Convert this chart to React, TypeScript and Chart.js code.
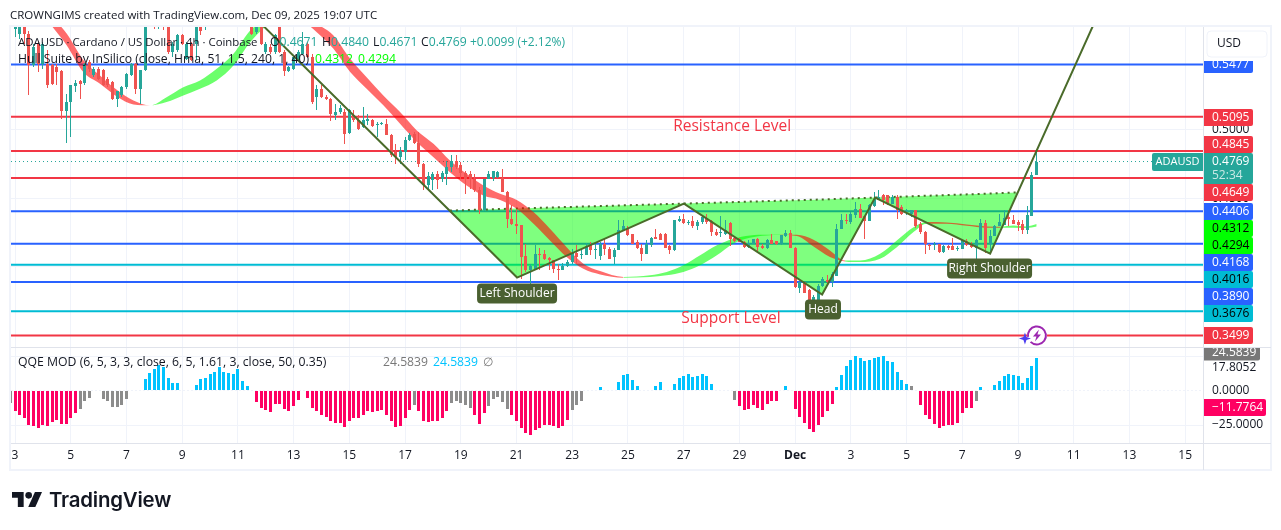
import { useEffect, useRef } from "react";
import { Chart, registerables } from "chart.js";

Chart.register(...registerables);

const FONT = '"Open Sans", sans-serif';
const INK = "#131722";
const UP = "#26a69a";
const DOWN = "#ef5350";
const RED = "#f23645";
const BLUE = "#2962ff";
const CYAN = "#00bcd4";
const OLIVE = "#4a6b2a";
const BADGE = "#4a6030";
const LIME = "#00ff00";
const QQE_BLUE = "#00c3ff";
const QQE_PINK = "#ff0062";
const QQE_GRAY = "#8c8c8c";

// x is days since Nov 3, one candle every 4h
const X_MIN = -0.144;
const X_MAX = 42.64;

const tickLabels = ["3", "5", "7", "9", "11", "13", "15", "17", "19", "21", "23", "25", "27", "29", "Dec", "3", "5", "7", "9", "11", "13", "15"];
const tickDays = [0, 2, 4, 6, 8, 10, 12, 14, 16, 18, 20, 22, 24, 26, 28, 30, 32, 34, 36, 38, 40, 42];

const opens = [
  .5737, .5701, .5780, .5701, .5470, .5628, .5482, .5482, .5470, .5458,
  .5429, .5137, .5203, .5317, .5354, .5344, .5494, .5397, .5446, .5434,
  .5373, .5349, .5227, .5251, .5312, .5397, .5482, .5300, .5439, .5798,
  .5822, .5774, .5798, .5774, .5567, .5580, .5689, .5519, .5628, .5628,
  .5774, .5762, .5798, .5840, .5820, .5860, .5830, .5850, .5820, .5850,
  .5810, .5790, .5713, .5774, .5567, .5604, .5567, .5798, .5567, .5429,
  .5446, .5507, .5555, .5628, .5531, .5239, .5300, .5239, .5227, .5106,
  .5130, .5130, .4977, .5106, .5069, .5020, .5064, .5074, .5038, .5040,
  .5045, .4965, .4838, .4802, .4838, .4928, .4972, .4904, .4752, .4594,
  .4635, .4679, .4642, .4679, .4728, .4776, .4747, .4684, .4679, .4643,
  .4558, .4412, .4643, .4650, .4655, .4647, .4550, .4351, .4315, .4302,
  .4076, .3974, .3986, .4096, .4091, .4067, .4047, .3986, .3974, .4003,
  .4035, .4103, .4084, .4084, .4161, .4127, .4079, .4164, .4132, .4072,
  .4120, .4266, .4278, .4237, .4181, .4140, .4096, .4157, .4217, .4242,
  .4242, .4149, .4120, .4332, .4351, .4319, .4332, .4295, .4327, .4358,
  .4332, .4254, .4246, .4242, .4319, .4210, .4203, .4181, .4144, .4169,
  .4200, .4149, .4140, .4198, .4186, .4164, .4225, .4246, .4140, .3848,
  .3889, .3829, .3731, .3760, .3858, .3906, .3889, .3930, .4278, .4344,
  .4327, .4375, .4424, .4368, .4334, .4441, .4490, .4521, .4521, .4460,
  .4509, .4436, .4400, .4383, .4412, .4310, .4254, .4161, .4156, .4164,
  .4106, .4149, .4149, .4132, .4130, .4188, .4169, .4140, .4193, .4319,
  .4164, .4222, .4295, .4302, .4363, .4344, .4327, .4315, .4266, .4368,
  .4671,
];
const highs = [
  .5810, .5810, .5810, .5720, .5628, .5640, .5640, .5580, .5480, .5482,
  .5440, .5264, .5324, .5366, .5366, .5490, .5511, .5460, .5460, .5446,
  .5385, .5360, .5283, .5320, .5412, .5490, .5490, .5439, .5810, .5860,
  .5860, .5830, .5830, .5800, .5640, .5700, .5700, .5640, .5640, .5822,
  .5800, .5822, .5860, .5900, .5890, .5900, .5870, .5890, .5870, .5880,
  .5850, .5820, .5770, .5790, .5640, .5628, .5700, .5810, .5580, .5465,
  .5540, .5580, .5713, .5640, .5555, .5324, .5324, .5256, .5235, .5191,
  .5179, .5154, .5150, .5142, .5106, .5166, .5118, .5080, .5057, .5060,
  .5081, .4970, .4899, .4875, .4948, .4975, .4984, .4984, .4760, .4691,
  .4691, .4703, .4703, .4776, .4813, .4813, .4764, .4703, .4698, .4679,
  .4582, .4640, .4698, .4703, .4700, .4715, .4555, .4448, .4412, .4305,
  .4169, .4023, .4157, .4140, .4120, .4072, .4052, .4023, .4028, .4047,
  .4132, .4157, .4132, .4173, .4181, .4181, .4181, .4205, .4144, .4140,
  .4339, .4344, .4295, .4242, .4193, .4164, .4198, .4217, .4278, .4247,
  .4244, .4157, .4339, .4368, .4387, .4339, .4368, .4339, .4375, .4387,
  .4339, .4278, .4368, .4339, .4327, .4217, .4210, .4188, .4193, .4205,
  .4212, .4164, .4200, .4242, .4190, .4235, .4271, .4266, .4144, .3892,
  .3892, .3835, .3792, .3877, .3926, .3938, .3962, .4314, .4383, .4387,
  .4400, .4472, .4460, .4368, .4460, .4545, .4558, .4533, .4526, .4521,
  .4521, .4448, .4424, .4417, .4417, .4327, .4261, .4169, .4181, .4169,
  .4157, .4161, .4212, .4149, .4198, .4205, .4181, .4203, .4351, .4339,
  .4266, .4302, .4383, .4412, .4412, .4375, .4344, .4339, .4441, .4696,
  .4840,
];
const lows = [
  .5677, .5665, .5628, .5251, .5458, .5422, .5446, .5307, .5324, .5324,
  .5081, .4904, .4948, .5276, .5227, .5330, .5422, .5385, .5365, .5317,
  .5312, .5220, .5166, .5240, .5300, .5390, .5264, .5191, .5430, .5790,
  .5737, .5737, .5730, .5555, .5531, .5570, .5620, .5510, .5500, .5507,
  .5689, .5730, .5770, .5800, .5790, .5810, .5800, .5810, .5790, .5800,
  .5780, .5690, .5700, .5620, .5555, .5555, .5555, .5560, .5390, .5420,
  .5435, .5500, .5545, .5525, .5191, .5142, .5230, .5215, .5064, .5074,
  .5118, .4899, .4970, .5057, .4996, .5015, .5033, .5020, .4948, .5035,
  .4960, .4802, .4753, .4753, .4778, .4920, .4895, .4729, .4558, .4558,
  .4562, .4570, .4618, .4594, .4691, .4715, .4643, .4533, .4570, .4550,
  .4383, .4405, .4640, .4630, .4650, .4545, .4283, .4302, .4242, .3914,
  .3962, .3870, .3986, .3979, .4047, .3974, .3957, .3901, .3974, .3998,
  .4023, .4018, .4059, .4084, .4084, .4059, .4047, .4084, .4055, .4023,
  .4120, .4266, .4222, .4164, .4132, .4040, .4096, .4144, .4200, .4195,
  .4140, .4096, .4118, .4327, .4315, .4305, .4285, .4266, .4315, .4315,
  .4222, .4222, .4217, .4229, .4152, .4181, .4178, .4140, .4140, .4164,
  .4115, .4132, .4132, .4164, .4160, .4160, .4220, .4137, .3848, .3809,
  .3811, .3719, .3719, .3743, .3855, .3860, .3853, .3930, .4275, .4315,
  .4315, .4358, .4358, .4200, .4334, .4436, .4490, .4455, .4448, .4460,
  .4346, .4375, .4375, .4363, .4285, .4242, .4091, .4125, .4125, .4103,
  .4101, .4120, .4120, .4115, .4130, .4154, .4140, .4059, .4193, .4101,
  .4115, .4222, .4295, .4302, .4295, .4310, .4261, .4237, .4242, .4368,
  .4671,
];
const closes = [
  .5798, .5798, .5701, .5470, .5604, .5482, .5628, .5324, .5337, .5422,
  .5137, .5203, .5324, .5344, .5337, .5482, .5446, .5446, .5373, .5324,
  .5324, .5227, .5283, .5312, .5405, .5482, .5300, .5439, .5798, .5847,
  .5774, .5810, .5750, .5567, .5628, .5689, .5628, .5628, .5507, .5798,
  .5725, .5798, .5840, .5820, .5860, .5830, .5850, .5820, .5850, .5810,
  .5790, .5701, .5760, .5628, .5628, .5567, .5689, .5567, .5429, .5458,
  .5531, .5567, .5628, .5531, .5203, .5300, .5239, .5227, .5118, .5130,
  .5161, .4972, .5142, .5069, .5008, .5069, .5076, .5025, .5045, .5052,
  .4965, .4814, .4802, .4846, .4928, .4960, .4904, .4753, .4594, .4660,
  .4679, .4635, .4684, .4732, .4776, .4728, .4684, .4643, .4643, .4558,
  .4412, .4638, .4679, .4698, .4691, .4545, .4351, .4315, .4295, .4072,
  .3974, .4003, .4091, .4084, .4059, .4047, .3986, .3974, .4003, .4035,
  .4101, .4072, .4096, .4149, .4125, .4132, .4169, .4132, .4059, .4120,
  .4266, .4295, .4229, .4169, .4140, .4096, .4164, .4212, .4203, .4198,
  .4140, .4125, .4339, .4351, .4319, .4327, .4295, .4327, .4363, .4327,
  .4254, .4229, .4254, .4266, .4205, .4188, .4181, .4144, .4173, .4200,
  .4144, .4137, .4198, .4169, .4164, .4229, .4246, .4140, .3853, .3889,
  .3811, .3731, .3780, .3860, .3914, .3889, .3950, .4278, .4344, .4339,
  .4383, .4424, .4358, .4332, .4448, .4497, .4509, .4485, .4460, .4509,
  .4412, .4383, .4417, .4412, .4295, .4254, .4164, .4154, .4169, .4106,
  .4149, .4140, .4120, .4140, .4193, .4161, .4144, .4198, .4319, .4140,
  .4227, .4295, .4327, .4358, .4351, .4315, .4302, .4266, .4375, .4667,
  .4769,
];

// QQE histogram, first entry is the bar cut off at the left edge
const qqeValues = [
  -8.8, -15, -17.3, -19.5, -24.8, -25.5, -27, -24.8, -25.5, -22.5,
  -21, -24, -24, -19.5, -16.5, -13.5, -7.5, -5.3, null, null,
  -6, -7.5, -12, -12, -10.5, -6, null, null, null, 9,
  13.5, 16.5, 18.8, 17.3, 9.8, 6, 6, null, null, null,
  4.5, 9, 9.8, 12.8, 14.3, 17.3, 14.3, 13.5, 12.8, 15.8,
  7.5, 3.8, null, -8.3, -12.8, -14.3, -15.8, -9.8, -9.8, -13.5,
  -15, -11.3, -6.8, null, -5.3, -12.8, -15, -17.3, -18.8, -21.8,
  -23.3, -23.3, -26.3, -21.8, -19.5, -19.5, -17.3, -15, -15.8, -15,
  -14.3, -17.3, -21.8, -26.3, -25.5, -19.5, -14.3, -10.5, -15, -21.8,
  -22.5, -21.8, -21.8, -19.5, -15, -8.8, -7.5, -9, -10.5, -12.8,
  -18, -24, -16.5, -11.3, -6, -4.5, -7.8, -13.5, -18, -21.8,
  -27, -30.8, -32.3, -28.5, -27, -24.8, -24.8, -25.5, -27, -25.5,
  -21, -14.3, -10.5, -7.5, null, null, null, 3, null, null,
  null, 6.8, 12, 12.3, 8.3, 3.8, null, null, null, 3.8,
  6.8, null, null, 5.3, 9.8, 11.3, 12.8, 10.5, 11.3, 12.8,
  11.3, 5.3, null, null, null, null, -6.8, -11.3, -14.3, -13.5,
  -10.5, -12.8, -14.3, -9.8, -7.5, -7.5, null, 3.8, null, -13.5,
  -18.8, -23.3, -27.8, -30, -24.8, -18.8, -15, -9.8, 3, 12,
  18, 22.5, 25.5, 24, 21.8, 22.5, 24, 24.8, 25.5, 21.8,
  21, 14.3, 8.3, 5.3, 3.8, null, -10.5, -17.3, -20.3, -24,
  -27, -25.5, -24.8, -24.8, -23.3, -16.5, -12.8, -12.8, -7.5, 3,
  null, null, 4.5, 7.5, 11.3, 12.8, 12, 11.3, 6, 9.8,
  18, 24.5839,
];
// positions in qqeValues of the bars shown in gray
const qqeGrayBars = [0, 15, 16, 17, 20, 21, 22, 23, 24, 25, 87, 95, 96, 97, 98, 99, 103, 104, 105, 106, 107, 121, 122, 123, 156, 194, 208];

const levelPrices = [0.5477, 0.5095, 0.4845, 0.4649, 0.4406, 0.4168, 0.4016, 0.389, 0.3676, 0.3499];
const levelColors = [BLUE, RED, RED, RED, BLUE, BLUE, CYAN, BLUE, CYAN, RED];
const lastPrice = 0.4769;

// Hull Suite band, two edges, trend flips at hullTurns
const hullDays = [
  0.9, 1.26, 1.86, 2.45, 3.05, 3.65, 4.25, 4.85,
  5.44, 6.04, 6.64, 7.24, 7.84, 8.44, 9.03, 9.63,
  10.23, 10.83, 11.43, 12.03, 12.62, 13.22, 13.82, 14.42, 15.02, 15.61, 16.21, 16.81, 17.41, 18.01, 18.61, 19.2, 19.8, 20.4, 21, 21.84,
  22.79, 23.39, 23.99, 24.59, 25.19, 25.78, 26.38, 26.98, 27.46,
  28.06, 28.66, 29.25, 29.79,
  30.33, 31.05, 31.65, 32.25, 32.72,
  33.44, 34.16, 34.88, 35.36,
  35.84, 36.31, 36.67,
];
const hullUpper = [
  .5950, .5847, .5701, .5511, .5397, .5293, .5215, .5179,
  .5239, .5312, .5361, .5446, .5555, .5725, .5810, .5871,
  .5847, .5774, .5689, .5519, .5385, .5251, .5130, .4996, .4898, .4776, .4679, .4594, .4533, .4489, .4400, .4278, .4144, .4023, .3969, .3926,
  .3938, .3962, .4011, .4084, .4157, .4205, .4229, .4234, .4234,
  .4234, .4198, .4120, .4047,
  .4047, .4096, .4193, .4290, .4327,
  .4324, .4310, .4295, .4293,
  .4302, .4295, .4312,
];
const hullLower = [
  .5870, .5774, .5616, .5422, .5337, .5244, .5186, .5179,
  .5203, .5251, .5300, .5361, .5470, .5640, .5762, .5859,
  .5810, .5713, .5592, .5422, .5300, .5179, .5045, .4911, .4800, .4691, .4594, .4521, .4489, .4424, .4315, .4193, .4072, .3986, .3945, .3921,
  .3926, .3938, .3962, .4011, .4084, .4169, .4212, .4229, .4232,
  .4225, .4149, .4072, .4040,
  .4035, .4059, .4144, .4254, .4315,
  .4315, .4300, .4285, .4285,
  .4285, .4283, .4294,
];
const hullTurns = [4.85, 9.63, 21.84, 27.46, 29.79, 32.72, 35.36];

// head and shoulders drawing
const patternDays = [8.61, 18.02, 24.01, 28.97, 30.87, 35, 38.84];
const patternPrices = [0.582, 0.3922, 0.4462, 0.3798, 0.4506, 0.4097, 0.5827];
const neckDays = [15.61, 18.02, 24.01, 28.97, 30.87, 35, 35.97];
const neckPrices = [0.4411, 0.4426, 0.4462, 0.4492, 0.4506, 0.4535, 0.4543];
const troughPrices = [0.4411, 0.3922, 0.4462, 0.3798, 0.4506, 0.4097, 0.4543];

const redNotes = [
  { text: "Resistance Level", day: 25.74, price: 0.5021 },
  { text: "Support Level", day: 25.7, price: 0.3619 },
];
const badges = [
  { text: "Left Shoulder", day: 18.02, price: 0.3805, w: 80 },
  { text: "Head", day: 29.0, price: 0.3689, w: 36 },
  { text: "Right Shoulder", day: 34.98, price: 0.3988, w: 85 },
];

// right axis tags, stacked the way the platform pushes them apart
const priceTags = [
  { text: "0.5095", fill: RED, ink: "#fff", top: 109 },
  { text: "0.4845", fill: RED, ink: "#fff", top: 136 },
  { text: "0.4649", fill: RED, ink: "#fff", top: 184 },
  { text: "0.4406", fill: BLUE, ink: "#fff", top: 203 },
  { text: "0.4312", fill: LIME, ink: "#000", top: 220 },
  { text: "0.4294", fill: LIME, ink: "#000", top: 237 },
  { text: "0.4168", fill: BLUE, ink: "#fff", top: 254 },
  { text: "0.4016", fill: CYAN, ink: "#000", top: 271 },
  { text: "0.3890", fill: BLUE, ink: "#fff", top: 288 },
  { text: "0.3676", fill: CYAN, ink: "#000", top: 305 },
  { text: "0.3499", fill: RED, ink: "#fff", top: 327 },
];

const barDay = (i: number) => i / 6;

function buildDatasets() {
  const candleColors = opens.map((o, i) => (closes[i] >= o ? UP : DOWN));
  const qqeColors = qqeValues.map((v, i) =>
    qqeGrayBars.includes(i) ? QQE_GRAY : (v ?? 0) > 0 ? QQE_BLUE : QQE_PINK
  );
  const flat = { type: "line", pointRadius: 0, yAxisID: "y", xAxisID: "x" };
  const levels = levelPrices.map((p, i) => ({
    ...flat,
    data: [{ x: X_MIN, y: p }, { x: X_MAX, y: p }],
    borderColor: levelColors[i],
    borderWidth: 2,
    order: 60,
  }));
  const hullColor = (day: number) =>
    hullTurns.filter((t) => t <= day).length % 2 === 0 ? "rgba(255,0,0,0.58)" : "rgba(0,255,0,0.58)";
  return [
    ...levels,
    {
      ...flat,
      data: [{ x: X_MIN, y: lastPrice }, { x: X_MAX, y: lastPrice }],
      borderColor: UP,
      borderWidth: 1,
      borderDash: [1, 3],
      order: 55,
    },
    {
      ...flat,
      data: neckDays.map((x, i) => ({ x, y: neckPrices[i] })),
      borderColor: OLIVE,
      borderWidth: 2,
      borderDash: [2, 4],
      fill: { target: "+1", above: "rgba(0,255,0,0.5)", below: "rgba(0,255,0,0.5)" },
      order: 50,
    },
    {
      ...flat,
      data: neckDays.map((x, i) => ({ x, y: troughPrices[i] })),
      borderColor: "rgba(0,0,0,0)",
      borderWidth: 0,
      order: 51,
    },
    {
      ...flat,
      data: hullDays.map((x, i) => ({ x, y: hullUpper[i] })),
      borderWidth: 0,
      borderColor: "rgba(0,0,0,0)",
      backgroundColor: "rgba(255,0,0,0.58)",
      cubicInterpolationMode: "monotone",
      fill: "+1",
      segment: {
        backgroundColor: (ctx: any) => hullColor(ctx.p0.parsed.x),
      },
      order: 40,
    },
    {
      ...flat,
      data: hullDays.map((x, i) => ({ x, y: hullLower[i] })),
      borderWidth: 0,
      borderColor: "rgba(0,0,0,0)",
      cubicInterpolationMode: "monotone",
      order: 41,
    },
    {
      type: "bar",
      data: opens.map((_, i) => ({ x: barDay(i), y: [lows[i], highs[i]] })),
      backgroundColor: candleColors,
      barThickness: 1,
      grouped: false,
      inflateAmount: 0,
      yAxisID: "y",
      xAxisID: "x",
      order: 30,
    },
    {
      type: "bar",
      data: opens.map((o, i) => ({ x: barDay(i), y: [o, closes[i]] })),
      backgroundColor: candleColors,
      barThickness: 3,
      grouped: false,
      inflateAmount: 0,
      yAxisID: "y",
      xAxisID: "x",
      order: 20,
    },
    {
      ...flat,
      data: patternDays.map((x, i) => ({ x, y: patternPrices[i] })),
      borderColor: OLIVE,
      borderWidth: 2,
      order: 10,
    },
    {
      type: "bar",
      data: qqeValues.map((y, i) => ({ x: barDay(i - 1), y })),
      backgroundColor: qqeColors,
      barThickness: 3,
      grouped: false,
      inflateAmount: 0,
      yAxisID: "q",
      xAxisID: "x",
      order: 5,
    },
  ];
}

// keep candles and histogram bars on whole pixels so they stay crisp
const snapPlugin = {
  id: "snap",
  afterDatasetsUpdate(chart: any) {
    chart.getSortedVisibleDatasetMetas().forEach((meta: any) => {
      if (meta.type !== "bar") return;
      meta.data.forEach((el: any) => {
        el.x = Math.floor(el.x) + 0.5;
        el.y = Math.round(el.y);
        el.base = Math.round(el.base);
        if (el.y === el.base) el.base = el.y + 1;
      });
    });
  },
};

const framePlugin = {
  id: "frame",
  beforeDraw(chart: any) {
    const { ctx } = chart;
    const { left, top } = chart.chartArea;
    ctx.save();
    ctx.fillStyle = "#fff";
    ctx.fillRect(0, 0, chart.width, chart.height);
    ctx.strokeStyle = "#f0f3fa";
    ctx.lineWidth = 2;
    ctx.strokeRect(left - 1, top - 1, 1271 - left + 1, 470 - top + 1);
    ctx.restore();
  },
  afterDatasetsDraw(chart: any) {
    const { ctx, scales } = chart;
    const { left, right, top, bottom } = chart.chartArea;
    ctx.save();
    ctx.strokeStyle = "#e0e3eb";
    ctx.lineWidth = 1;
    ctx.beginPath();
    ctx.moveTo(left, scales.y.bottom + 0.5);
    ctx.lineTo(1271, scales.y.bottom + 0.5);
    ctx.moveTo(left, bottom + 0.5);
    ctx.lineTo(1271, bottom + 0.5);
    ctx.moveTo(right + 0.5, top);
    ctx.lineTo(right + 0.5, 470);
    ctx.stroke();

    // notes on the price pane
    ctx.textAlign = "center";
    ctx.textBaseline = "middle";
    ctx.font = `15.5px ${FONT}`;
    ctx.fillStyle = RED;
    redNotes.forEach((n) => {
      ctx.fillText(n.text, scales.x.getPixelForValue(n.day), scales.y.getPixelForValue(n.price));
    });
    ctx.font = `12px ${FONT}`;
    badges.forEach((b) => {
      const cx = scales.x.getPixelForValue(b.day);
      const cy = scales.y.getPixelForValue(b.price);
      ctx.fillStyle = BADGE;
      ctx.beginPath();
      ctx.roundRect(cx - b.w / 2, cy - 10, b.w, 20, 4);
      ctx.fill();
      ctx.fillStyle = "#fff";
      ctx.fillText(b.text, cx, cy + 0.5);
    });

    // flash icon on the lowest level
    const ix = scales.x.getPixelForValue(36.68);
    const iy = scales.y.getPixelForValue(0.3499);
    ctx.fillStyle = "#fff";
    ctx.beginPath();
    ctx.arc(ix, iy, 10, 0, Math.PI * 2);
    ctx.fill();
    ctx.strokeStyle = "#9c27b0";
    ctx.lineWidth = 2;
    ctx.beginPath();
    ctx.arc(ix, iy, 9, Math.PI * 0.95, Math.PI * 2.75);
    ctx.stroke();
    ctx.fillStyle = "#9c27b0";
    ctx.beginPath();
    ctx.moveTo(ix + 2, iy - 6);
    ctx.lineTo(ix - 4, iy + 1);
    ctx.lineTo(ix - 0.5, iy + 1);
    ctx.lineTo(ix - 2, iy + 6);
    ctx.lineTo(ix + 4, iy - 1);
    ctx.lineTo(ix + 0.5, iy - 1);
    ctx.closePath();
    ctx.fill();
    ctx.fillStyle = "#4c3df0";
    ctx.beginPath();
    const sx = ix - 12;
    const sy = iy + 3;
    ctx.moveTo(sx, sy - 6);
    ctx.lineTo(sx + 1.5, sy - 1.5);
    ctx.lineTo(sx + 6, sy);
    ctx.lineTo(sx + 1.5, sy + 1.5);
    ctx.lineTo(sx, sy + 6);
    ctx.lineTo(sx - 1.5, sy + 1.5);
    ctx.lineTo(sx - 6, sy);
    ctx.lineTo(sx - 1.5, sy - 1.5);
    ctx.closePath();
    ctx.fill();
    ctx.restore();
  },
  afterDraw(chart: any) {
    const { ctx, scales } = chart;
    const tagLeft = 1204;
    const tagW = 49;
    const drawTag = (text: string, fill: string, ink: string, top: number, w = tagW) => {
      ctx.fillStyle = fill;
      ctx.beginPath();
      ctx.roundRect(tagLeft, top, w, 17, [0, 2, 2, 0]);
      ctx.fill();
      ctx.fillStyle = ink;
      ctx.fillText(text, 1212, top + 9);
    };
    ctx.save();
    ctx.font = `12px ${FONT}`;
    ctx.textAlign = "left";
    ctx.textBaseline = "middle";

    // current price block with countdown
    ctx.fillStyle = UP;
    ctx.beginPath();
    ctx.roundRect(tagLeft, 153, tagW, 31, [0, 2, 2, 0]);
    ctx.fill();
    ctx.fillStyle = "#fff";
    ctx.fillText("0.4769", 1212, 162);
    ctx.fillStyle = "rgba(255,255,255,0.75)";
    ctx.fillText("52:34", 1212, 176);
    priceTags.forEach((t) => drawTag(t.text, t.fill, t.ink, t.top));

    // symbol tag left of the axis
    ctx.fillStyle = UP;
    ctx.beginPath();
    ctx.roundRect(1152, 153, 51, 18, [2, 0, 0, 2]);
    ctx.fill();
    ctx.fillStyle = "#fff";
    ctx.textAlign = "center";
    ctx.font = `11px ${FONT}`;
    ctx.fillText("ADAUSD", 1177.5, 162);
    ctx.font = `12px ${FONT}`;
    ctx.textAlign = "left";

    // top tag is half under the currency button
    ctx.save();
    ctx.beginPath();
    ctx.rect(tagLeft, 61, 60, 14);
    ctx.clip();
    drawTag("0.5477", BLUE, "#fff", 56);
    ctx.restore();
    ctx.strokeStyle = "#f0f3fa";
    ctx.fillStyle = "#fff";
    ctx.lineWidth = 1;
    ctx.beginPath();
    ctx.roundRect(1207, 31, 60, 26, 4);
    ctx.fill();
    ctx.stroke();
    ctx.fillStyle = INK;
    ctx.fillText("USD", 1217, 44);

    // QQE pane tags
    ctx.save();
    ctx.beginPath();
    ctx.rect(tagLeft, scales.q.top + 1, 60, 20);
    ctx.clip();
    drawTag("24.5839", "#787878", "#fff", 343.5, 56);
    ctx.restore();
    ctx.fillStyle = INK;
    ctx.fillText("17.8052", 1212, 368);
    drawTag("−11.7764", QQE_PINK, "#fff", 399, 62);
    ctx.restore();
  },
};

function Text({ x, y, size = 12.2, color = INK, children }: { x: number; y: number; size?: number; color?: string; children: any }) {
  return (
    <span
      style={{
        position: "absolute",
        left: x,
        top: y,
        color,
        font: `${size}px/16px ${FONT}`,
        whiteSpace: "nowrap",
      }}
    >
      {children}
    </span>
  );
}

function Ohlc({ x, letter, value }: { x: number; letter: string; value: string }) {
  return (
    <Text x={x} y={34}>
      {letter}
      <span style={{ color: UP }}>{value}</span>
    </Text>
  );
}

export default function App() {
  const canvasRef = useRef<HTMLCanvasElement>(null);

  useEffect(() => {
    const canvas = canvasRef.current;
    if (!canvas) return;
    const font = { family: FONT, size: 12 };
    const chart = new Chart(canvas, {
      type: "line",
      data: { datasets: buildDatasets() as any },
      plugins: [snapPlugin, framePlugin],
      options: {
        animation: false,
        responsive: false,
        devicePixelRatio: 1,
        events: [],
        layout: {
          autoPadding: false,
          padding: { left: 11, top: 27, right: 10, bottom: 60 },
        },
        plugins: { legend: { display: false }, tooltip: { enabled: false } },
        elements: { line: { capBezierPoints: false, tension: 0 }, bar: { borderWidth: 0 } },
        scales: {
          x: {
            type: "linear",
            min: X_MIN,
            max: X_MAX,
            offset: false,
            afterBuildTicks: (scale: any) => {
              scale.ticks = tickDays.map((value) => ({ value }));
            },
            afterFit: (scale: any) => {
              scale.height = 27;
            },
            border: { display: false },
            grid: { color: "#f0f3fa", offset: false, drawTicks: false },
            ticks: {
              autoSkip: false,
              maxRotation: 0,
              padding: 5,
              color: INK,
              font: (ctx: any) => ({ ...font, weight: tickLabels[ctx.index] === "Dec" ? "bold" : "normal" }),
              callback: (_v: any, i: number) => tickLabels[i],
            },
          },
          y: {
            type: "linear",
            position: "right",
            stack: "panes",
            stackWeight: 320,
            min: 0.3415,
            max: 0.5751,
            afterBuildTicks: (scale: any) => {
              scale.ticks = [0.5, 0.45, 0.4, 0.35].map((value) => ({ value }));
            },
            afterFit: (scale: any) => {
              scale.width = 68;
            },
            border: { display: false },
            grid: { color: "#f0f3fa", drawTicks: false },
            ticks: {
              padding: 9,
              color: INK,
              font,
              callback: (v: any) => Number(v).toFixed(4),
            },
          },
          q: {
            type: "linear",
            position: "right",
            stack: "panes",
            stackWeight: 96,
            min: -38.2,
            max: 32.3,
            afterBuildTicks: (scale: any) => {
              scale.ticks = [25, 0, -25].map((value) => ({ value }));
            },
            afterFit: (scale: any) => {
              scale.width = 68;
            },
            border: {
              display: false,
              dash: (ctx: any) => (ctx.tick && ctx.tick.value === 0 ? [2, 2] : []),
            },
            grid: { color: "#f0f3fa", drawTicks: false },
            ticks: {
              padding: 9,
              color: INK,
              font,
              callback: (v: any) => {
                if (v === 25) return "";
                return v < 0 ? "−" + Math.abs(v).toFixed(4) : Number(v).toFixed(4);
              },
            },
          },
        },
      } as any,
    });
    return () => {
      chart.destroy();
    };
  }, []);

  return (
    <div style={{ position: "absolute", left: 0, top: 0, width: 1281, height: 530, overflow: "hidden", background: "#fff" }}>
      <canvas ref={canvasRef} width={1281} height={530} style={{ display: "block" }} />
      <Text x={10} y={7} size={11.5}>CROWNGIMS created with TradingView.com, Dec 09, 2025 19:07 UTC</Text>
      <Text x={18} y={34} size={11.4}>ADAUSD · Cardano / US Dollar · 4h · Coinbase</Text>
      <Ohlc x={270} letter="O" value="0.4671" />
      <Ohlc x={322} letter="H" value="0.4840" />
      <Ohlc x={373} letter="L" value="0.4671" />
      <Ohlc x={421} letter="C" value="0.4769" />
      <Text x={470} y={34} color={UP} size={12}>+0.0099 (+2.12%)</Text>
      <Text x={18} y={51}>Hull Suite by InSilico (close, Hma, 51, 1.5, 240, 1, 40)</Text>
      <Text x={315} y={51} color={LIME}>0.4312</Text>
      <Text x={358} y={51} color={LIME}>0.4294</Text>
      <Text x={18} y={354} size={12.25}>QQE MOD (6, 5, 3, 3, close, 6, 5, 1.61, 3, close, 50, 0.35)</Text>
      <Text x={383} y={354} color="#787878">24.5839</Text>
      <Text x={433} y={354} color={QQE_BLUE}>24.5839</Text>
      <Text x={483} y={354} color="#787878">∅</Text>
      <svg style={{ position: "absolute", left: 12, top: 492 }} width={30} height={15} viewBox="0 0 36 18">
        <path d="M14 18H7V7H0V0h14v18z" fill="#131722" />
        <circle cx="20" cy="4" r="4" fill="#131722" />
        <path d="M36 0L28 18H19.5L27.5 0z" fill="#131722" />
      </svg>
      <span
        style={{
          position: "absolute",
          left: 49,
          top: 486,
          color: INK,
          font: `600 20.4px/28px Inter, sans-serif`,
          letterSpacing: "-0.2px",
          whiteSpace: "nowrap",
        }}
      >
        TradingView
      </span>
    </div>
  );
}
